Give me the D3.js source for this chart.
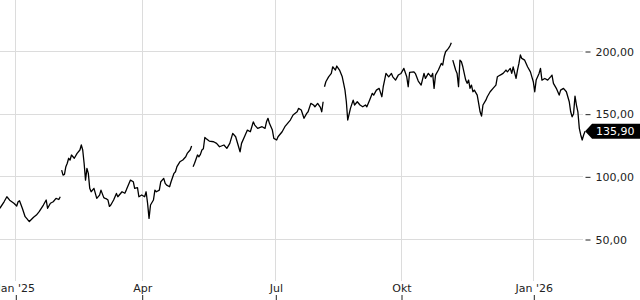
<!DOCTYPE html>
<html>
<head>
<meta charset="utf-8">
<script src="https://cdn.jsdelivr.net/npm/d3@7"></script>
<style>
body { margin: 0; background: #fff; }
svg { display: block; font-family: "DejaVu Sans", sans-serif; }
</style>
</head>
<body>
<svg id="chart"></svg>
<script>
// price history, null = gap in the series
const dates = [
  "2024-12-21","2024-12-24","2024-12-26","2024-12-28","2024-12-31","2025-01-02","2025-01-03","2025-01-04","2025-01-06","2025-01-08",
  "2025-01-10","2025-01-11","2025-01-14","2025-01-16","2025-01-18","2025-01-21","2025-01-23","2025-01-24","2025-01-26","2025-01-28",
  "2025-01-30","2025-02-01","2025-02-02","2025-02-03",
  "2025-02-03","2025-02-04","2025-02-05","2025-02-06","2025-02-07","2025-02-08","2025-02-09","2025-02-10","2025-02-12","2025-02-14",
  "2025-02-16","2025-02-17","2025-02-18","2025-02-19","2025-02-20","2025-02-21","2025-02-22","2025-02-23","2025-02-24","2025-02-26",
  "2025-02-28","2025-03-02","2025-03-03","2025-03-05","2025-03-06","2025-03-07","2025-03-08","2025-03-09","2025-03-10","2025-03-12",
  "2025-03-14","2025-03-15","2025-03-18","2025-03-20","2025-03-21","2025-03-24","2025-03-26","2025-03-27","2025-03-29","2025-03-30",
  "2025-04-01","2025-04-03","2025-04-04","2025-04-05","2025-04-06","2025-04-07","2025-04-09","2025-04-10","2025-04-11","2025-04-13",
  "2025-04-14","2025-04-16","2025-04-17","2025-04-18","2025-04-20","2025-04-21","2025-04-23","2025-04-24","2025-04-25","2025-04-27",
  "2025-04-29","2025-05-01","2025-05-02","2025-05-04","2025-05-05","2025-05-06",
  "2025-05-06","2025-05-07","2025-05-09","2025-05-10","2025-05-11","2025-05-12","2025-05-13","2025-05-14","2025-05-15","2025-05-17",
  "2025-05-20","2025-05-22","2025-05-24","2025-05-27","2025-05-29","2025-05-31","2025-06-01","2025-06-02","2025-06-04","2025-06-05",
  "2025-06-07","2025-06-08","2025-06-10","2025-06-12","2025-06-14","2025-06-16","2025-06-17","2025-06-19","2025-06-22","2025-06-24",
  "2025-06-25","2025-06-26","2025-06-27","2025-06-29","2025-06-30","2025-07-02","2025-07-03","2025-07-06","2025-07-08","2025-07-10",
  "2025-07-12","2025-07-14","2025-07-17","2025-07-18","2025-07-20","2025-07-22","2025-07-24","2025-07-25","2025-07-27","2025-07-29",
  "2025-07-30","2025-08-01","2025-08-03","2025-08-04","2025-08-05","2025-08-06",
  "2025-08-06","2025-08-07","2025-08-09","2025-08-11","2025-08-12","2025-08-14","2025-08-15","2025-08-17","2025-08-19","2025-08-20",
  "2025-08-21","2025-08-22","2025-08-23","2025-08-25","2025-08-27","2025-08-28","2025-08-30","2025-09-01","2025-09-03","2025-09-05",
  "2025-09-06","2025-09-08","2025-09-10","2025-09-11","2025-09-13","2025-09-15","2025-09-17","2025-09-18","2025-09-19","2025-09-20",
  "2025-09-22","2025-09-24","2025-09-25","2025-09-27","2025-09-29","2025-10-01","2025-10-03","2025-10-05","2025-10-06","2025-10-07",
  "2025-10-10","2025-10-11","2025-10-13","2025-10-15","2025-10-17","2025-10-18","2025-10-20","2025-10-22","2025-10-23","2025-10-24",
  "2025-10-25","2025-10-27","2025-10-29","2025-10-30","2025-10-31","2025-11-01","2025-11-03","2025-11-04","2025-11-05","2025-11-06",
  "2025-11-06","2025-11-07","2025-11-08","2025-11-09","2025-11-10","2025-11-11","2025-11-12","2025-11-13","2025-11-15","2025-11-16",
  "2025-11-17","2025-11-18","2025-11-19","2025-11-20","2025-11-21","2025-11-23","2025-11-24","2025-11-25","2025-11-26","2025-11-27",
  "2025-11-29","2025-11-30","2025-12-02","2025-12-04","2025-12-06","2025-12-07","2025-12-09","2025-12-11","2025-12-13","2025-12-14",
  "2025-12-16","2025-12-17","2025-12-18","2025-12-20","2025-12-21","2025-12-22","2025-12-23","2025-12-24","2025-12-26","2025-12-28",
  "2025-12-30","2025-12-31","2026-01-01","2026-01-02","2026-01-03","2026-01-05","2026-01-06","2026-01-07","2026-01-09","2026-01-11",
  "2026-01-13","2026-01-14","2026-01-15","2026-01-17","2026-01-19","2026-01-20","2026-01-22","2026-01-24","2026-01-25","2026-01-26",
  "2026-01-27","2026-01-28","2026-01-29","2026-01-30","2026-01-31","2026-02-01","2026-02-02","2026-02-03","2026-02-04","2026-02-05",
  "2026-02-06"
]
const prices = [
  74.5,79.7,83.7,81.0,78.5,76.3,79.7,80.5,74.5,67.8,
  65.2,64.0,67.3,69.1,71.8,77.1,81.1,74.5,78.5,79.7,
  82.4,81.5,83.7,null,
  105,101,101.5,107.7,110.4,114.4,113,117,114.4,118.3,
  121,125,121,110.4,97,106.4,102.4,90.4,87.7,90.4,
  82.4,85,89,83,82.4,82,81.1,76,77.1,81.1,
  86.4,83.7,87.7,86.5,89,97,95.7,90.4,91,83.7,
  85.1,83.7,87.7,78.5,66.5,77.1,81.1,89,87.7,89,
  95.7,98.4,94.4,93,91.7,95.7,102.4,103.7,107.7,111.6,
  113,115.6,118.3,121,124.2,null,
  107.7,110.4,117,115.6,117.5,121,122,131,130,128.1,
  127.6,126.3,123.6,125,122.3,126.3,130.3,134.3,131.6,127.6,
  119.6,126.3,131.6,136.9,135.6,143.5,140.9,138.3,139.6,138.3,
  143.5,146.3,142.3,136.9,130.3,129,131.6,135.6,139.6,142.3,
  144.9,148.9,151.5,154.2,152.9,146.3,150.2,151.5,158.2,156.9,
  155.5,158.2,155,151.5,159.5,null,
  171.5,175.5,179.4,182.1,187.4,184.8,188,184.8,179.4,174.2,
  168.8,159.5,144.9,154.2,160.8,156.9,159.5,156.9,155.5,156.9,
  155.5,160.8,166.2,164.8,168.8,170.2,163.5,171.5,176.8,182.1,
  179.4,182.1,179.4,176.8,180.8,182.1,186.1,179.4,171.5,183,
  183.4,182,176,172.8,182.1,178.1,182.1,179.4,182.1,170.2,
  180.8,184.8,190.1,188.8,195.4,199.4,202.1,204,206.6,null,
  192.7,188.8,184.8,182.1,171.5,192.7,191.4,187.4,176.8,174.2,
  176.8,170.2,172.8,167.5,168.8,164.8,158.2,151.5,148.1,156.9,
  160.8,163.5,167.5,170.2,172.8,179.4,180.8,182.1,184.8,183.4,
  186.1,182.1,187.4,178.1,184.8,190.1,196.8,194.1,192.7,187.4,
  183.4,179.4,175.5,167.5,176.8,182.1,186.1,176.8,178.1,176.8,
  179.4,180.8,174.2,170.2,164.8,168.8,170.2,167.5,163.5,159.5,
  151.5,147.5,150,164,156.9,151.5,138.3,133,129,133,
  135.9
]
const yTicks = [50, 100, 150, 200]
const xTickDates = ["2025-01-01", "2025-04-01", "2025-07-01", "2025-10-01", "2026-01-01"]
const xTickLabels = ["Jan '25", "Apr", "Jul", "Okt", "Jan '26"]
const lastPrice = 135.90

const width = 640, height = 300
const parse = d3.timeParse("%Y-%m-%d")
const de = d3.formatLocale({decimal: ",", thousands: ".", grouping: [3], currency: ["", " €"]})
const fmt = de.format(".2f")

const data = dates.map((d, i) => ({date: parse(d), value: prices[i]}))

const svg = d3.select("#chart")
  .attr("width", width)
  .attr("height", height)

const x = d3.scaleTime()
  .domain(xTickDates.map(parse))
  .range([15.3, 141.7, 275.3, 401, 533.3])

const y = d3.scaleLinear()
  .domain([50, 200])
  .range([239, 51])

const plotRight = 583

// grid
svg.append("g").attr("class", "vgrid")
  .selectAll("line")
  .data(xTickDates)
  .enter().append("line")
  .attr("x1", d => Math.round(x(parse(d))) + 0.5)
  .attr("x2", d => Math.round(x(parse(d))) + 0.5)
  .attr("y1", 0)
  .attr("y2", 281)
  .attr("stroke", "#dcdcdc")

svg.append("g").attr("class", "hgrid")
  .selectAll("line")
  .data(yTicks)
  .enter().append("line")
  .attr("x1", 0)
  .attr("x2", plotRight)
  .attr("y1", d => Math.round(y(d)) + 0.5)
  .attr("y2", d => Math.round(y(d)) + 0.5)
  .attr("stroke", "#dcdcdc")

// axes
const xAxis = svg.append("g")
  .attr("transform", `translate(0.5,${height})`)
  .call(d3.axisTop(x)
    .tickValues(xTickDates.map(parse))
    .tickFormat((d, i) => xTickLabels[i])
    .tickSize(5)
    .tickPadding(3))
xAxis.select(".domain").remove()

const yAxis = svg.append("g")
  .attr("transform", `translate(585.5,0.5)`)
  .call(d3.axisRight(y)
    .tickValues(yTicks)
    .tickFormat(fmt)
    .tickSize(5)
    .tickPadding(5))
yAxis.select(".domain").remove()

svg.selectAll(".tick text")
  .attr("font-family", "DejaVu Sans, sans-serif")
  .attr("font-size", 11)
  .attr("fill", "#222")
svg.selectAll(".tick line").attr("stroke", "#222")

// price line
const line = d3.line()
  .defined(d => d.value != null)
  .x(d => x(d.date))
  .y(d => y(d.value))

svg.append("path")
  .datum(data)
  .attr("fill", "none")
  .attr("stroke", "#000")
  .attr("stroke-width", 1.3)
  .attr("stroke-linejoin", "round")
  .attr("d", line)

// last price marker
const last = data[data.length - 1]
const tipX = x(last.date)
const ly = y(lastPrice)
const marker = svg.append("g").attr("transform", `translate(0,${ly})`)
marker.append("path")
  .attr("d", `M${tipX},0 L${tipX + 7},-7.5 H${width} V7.5 H${tipX + 7} Z`)
  .attr("fill", "#000")
marker.append("text")
  .attr("x", 596)
  .attr("dy", "0.35em")
  .attr("fill", "#fff")
  .attr("font-size", 11)
  .text(fmt(lastPrice))
</script>
</body>
</html>
